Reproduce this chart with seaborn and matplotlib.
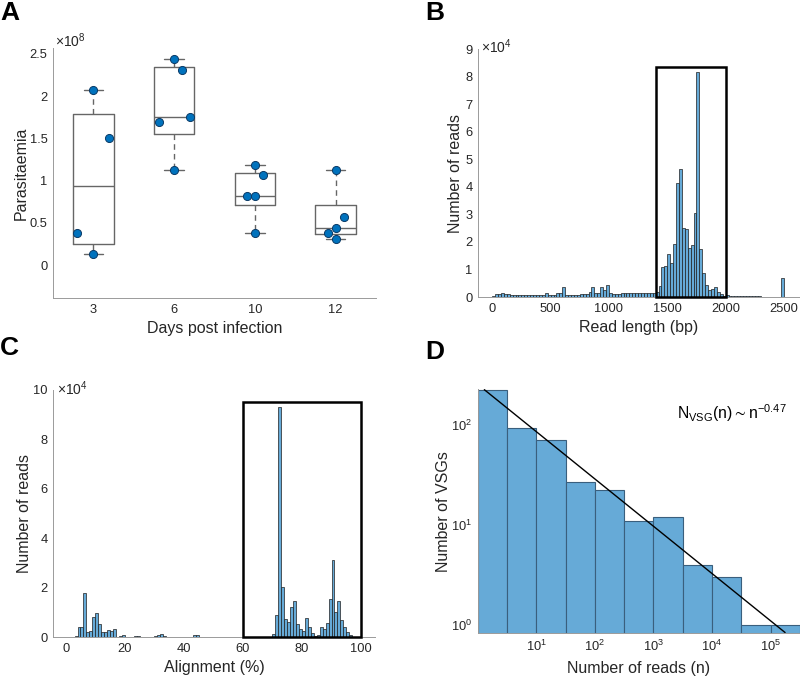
import numpy as np
import pandas as pd
import matplotlib
matplotlib.use('Agg')
import matplotlib.pyplot as plt
from matplotlib.patches import Rectangle
import seaborn as sns

# ── Panel A : parasitaemia (x 1e8) per day post infection ────
days       = ['3', '6', '10', '12']
para_d3    = [2.07, 1.50, 0.38, 0.127]
para_d6    = [2.44, 2.31, 1.756, 1.69, 1.127]
para_d10   = [1.19, 1.064, 0.819, 0.819, 0.38]
para_d12   = [1.127, 0.566, 0.44, 0.38, 0.313]
jitter_d3  = [0.0, 0.195, -0.205, 0.0]
jitter_d6  = [0.0, 0.10, 0.20, -0.19, 0.0]
jitter_d10 = [0.0, 0.10, -0.095, 0.0, 0.0]
jitter_d12 = [0.0, 0.10, 0.0, -0.10, 0.0]

# ── Panel B : read length histogram (25 bp bins, counts x 1e4) ──
len_bin_width = 25
len_counts = [
    0.03, 0.10, 0.12, 0.13, 0.12, 0.10, 0.09, 0.08, 0.08, 0.07,   # 0-225
    0.07, 0.07, 0.07, 0.07, 0.07, 0.07, 0.07, 0.08, 0.16, 0.09,   # 250-475
    0.08, 0.08, 0.14, 0.15, 0.36, 0.08, 0.08, 0.08, 0.09, 0.09,   # 500-725
    0.10, 0.11, 0.12, 0.18, 0.35, 0.15, 0.14, 0.35, 0.25, 0.42,   # 750-975
    0.13, 0.12, 0.12, 0.12, 0.13, 0.13, 0.15, 0.14, 0.14, 0.13,   # 1000-1225
    0.14, 0.14, 0.14, 0.15, 0.15, 0.16, 0.20, 0.40, 1.10, 1.14,   # 1250-1475
    1.56, 1.22, 1.92, 4.13, 4.65, 2.50, 2.46, 1.77, 1.89, 3.04,   # 1500-1725
    8.15, 1.73, 0.86, 0.44, 0.25, 0.28, 0.36, 0.19, 0.10, 0.05,   # 1750-1975
    0.07, 0.04, 0.04, 0.03, 0.03, 0.02, 0.02, 0.02, 0.02, 0.02,   # 2000-2225
    0.03, 0.02, 0.01, 0.01, 0.01, 0.01, 0.01, 0.00, 0.00, 0.70,   # 2250-2475
]

# ── Panel C : alignment histogram (1 % bins, counts x 1e4) ────
aln_counts = [
    0.00, 0.00, 0.02, 0.07, 0.43, 0.42, 1.80, 0.22, 0.26, 0.82,   # 0-9
    0.97, 0.54, 0.23, 0.22, 0.30, 0.26, 0.34, 0.03, 0.07, 0.08,   # 10-19
    0.03, 0.01, 0.01, 0.04, 0.04, 0.01, 0.01, 0.01, 0.01, 0.02,   # 20-29
    0.04, 0.08, 0.12, 0.04, 0.02, 0.02, 0.01, 0.01, 0.01, 0.02,   # 30-39
    0.03, 0.02, 0.02, 0.08, 0.08, 0.02, 0.01, 0.01, 0.01, 0.01,   # 40-49
    0.01, 0.01, 0.01, 0.01, 0.01, 0.01, 0.01, 0.01, 0.01, 0.01,   # 50-59
    0.01, 0.01, 0.01, 0.01, 0.01, 0.01, 0.02, 0.02, 0.03, 0.03,   # 60-69
    0.13, 0.90, 9.30, 2.03, 0.74, 0.61, 1.24, 1.48, 0.53, 0.32,   # 70-79
    0.24, 0.77, 0.43, 0.16, 0.07, 0.11, 0.40, 0.35, 0.58, 1.55,   # 80-89
    3.13, 1.01, 1.48, 0.70, 0.43, 0.20, 0.08, 0.03, 0.01, 0.00,   # 90-99
]

# ── Panel D : VSG abundance distribution (half-decade bins) ──
vsg_counts = [223, 92, 70, 27, 22, 11, 12, 4, 3, 1, 1]
fit_n      = [1.3, 1.76e5]
fit_N      = [223, 0.84]

# ── Style ────────────────────────────────────────────────────
sns.set_theme(style='white')
plt.rcParams['font.family'] = ['Liberation Sans', 'DejaVu Sans']
TXT   = '#262626'
SPINE = '#9a9a9a'
BLUE  = '#0072BD'
FACE  = '#66AAD7'
BOXC  = '#666666'
LAB   = 11.5
TICK  = 9.3

fig = plt.figure(figsize=(8, 6.78), dpi=100)
axA = fig.add_axes([0.06625, 0.5605, 0.40375, 0.3687])
axB = fig.add_axes([0.5975, 0.5619, 0.4025, 0.3658])
axC = fig.add_axes([0.0666, 0.0600, 0.4021, 0.3648])
axD = fig.add_axes([0.5971, 0.0659, 0.4029, 0.3599])


def style_axes(ax):
    sns.despine(ax=ax)
    for s in ['left', 'bottom']:
        ax.spines[s].set_color(SPINE)
        ax.spines[s].set_linewidth(0.7)
    ax.tick_params(direction='in', length=3, width=0.6, color=SPINE,
                   labelcolor=TXT, labelsize=TICK, pad=4)
    ax.tick_params(which='minor', length=0)


# ── A : boxplot + points ─────────────────────────────────────
groups  = [para_d3, para_d6, para_d10, para_d12]
jitters = [jitter_d3, jitter_d6, jitter_d10, jitter_d12]
stats = []
for g in groups:
    q1, med, q3 = np.percentile(g, [25, 50, 75], method='hazen')
    stats.append(dict(med=med, q1=q1, q3=q3, whislo=min(g), whishi=max(g), fliers=[]))
axA.bxp(stats, positions=range(4), widths=0.5, capwidths=0.24, showfliers=False,
        boxprops=dict(color=BOXC, lw=1.0),
        medianprops=dict(color=BOXC, lw=1.0),
        whiskerprops=dict(color=BOXC, lw=1.0, linestyle=(0, (4, 3))),
        capprops=dict(color=BOXC, lw=1.0))
pts = pd.DataFrame({
    'x': np.concatenate([np.array(j) + i for i, j in enumerate(jitters)]),
    'y': np.concatenate(groups),
})
sns.scatterplot(data=pts, x='x', y='y', ax=axA, s=34, color=BLUE,
                edgecolor='#0b3a66', linewidth=0.7, zorder=5)
axA.set_xlim(-0.5, 3.5)
axA.set_ylim(-0.39, 2.57)
axA.set_xticks(range(4))
axA.set_xticklabels(days)
axA.set_yticks([0, 0.5, 1, 1.5, 2, 2.5])
axA.set_yticklabels(['0', '0.5', '1', '1.5', '2', '2.5'])
axA.set_xlabel('Days post infection', fontsize=LAB, color=TXT, labelpad=4)
axA.set_ylabel('Parasitaemia', fontsize=LAB, color=TXT, labelpad=0.5)
style_axes(axA)
axA.text(0.005, 1.004, r'$\mathregular{\times10^{8}}$', transform=axA.transAxes,
         ha='left', va='baseline', fontsize=10, color=TXT)

# ── B : read length histogram ───────────────────────────────
len_start = np.arange(len(len_counts)) * len_bin_width
df_len = pd.DataFrame({'mid': len_start + len_bin_width / 2, 'n': len_counts})
sns.histplot(data=df_len, x='mid', weights='n', binwidth=len_bin_width,
             binrange=(0, len(len_counts) * len_bin_width), ax=axB,
             color=FACE, alpha=1, edgecolor='#1f1f1f', linewidth=0.5)
axB.add_patch(Rectangle((1400, 0), 600, 8.34, fill=False, ec='black', lw=1.8,
                        clip_on=False, zorder=6))
axB.set_xlim(-122, 2637)
axB.set_ylim(0, 9)
axB.set_xticks([0, 500, 1000, 1500, 2000, 2500])
axB.set_yticks(range(10))
axB.set_xlabel('Read length (bp)', fontsize=LAB, color=TXT, labelpad=4)
axB.set_ylabel('Number of reads', fontsize=LAB, color=TXT, labelpad=1.5)
style_axes(axB)
axB.text(0.01, 0.984, r'$\mathregular{\times10^{4}}$', transform=axB.transAxes,
         ha='left', va='baseline', fontsize=10, color=TXT)

# ── C : alignment histogram ─────────────────────────────────
df_aln = pd.DataFrame({'mid': np.arange(len(aln_counts)) + 0.5, 'n': aln_counts})
sns.histplot(data=df_aln, x='mid', weights='n', binwidth=1,
             binrange=(0, len(aln_counts)), ax=axC,
             color=FACE, alpha=1, edgecolor='#1f1f1f', linewidth=0.5)
axC.add_patch(Rectangle((60, 0), 40, 9.53, fill=False, ec='black', lw=1.8,
                        clip_on=False, zorder=6))
axC.set_xlim(-4.2, 104.7)
axC.set_ylim(0, 10)
axC.set_xticks([0, 20, 40, 60, 80, 100])
axC.set_yticks([0, 2, 4, 6, 8, 10])
axC.set_xlabel('Alignment (%)', fontsize=LAB, color=TXT, labelpad=4)
axC.set_ylabel('Number of reads', fontsize=LAB, color=TXT, labelpad=1)
style_axes(axC)
axC.text(0.012, 0.98, r'$\mathregular{\times10^{4}}$', transform=axC.transAxes,
         ha='left', va='baseline', fontsize=10, color=TXT)

# ── D : VSG abundance, log-log ──────────────────────────────
vsg_log_start = np.arange(len(vsg_counts)) * 0.5
df_vsg = pd.DataFrame({'mid': 10 ** (vsg_log_start + 0.25), 'n': vsg_counts})
sns.histplot(data=df_vsg, x='mid', weights='n', binwidth=0.5, binrange=(0, 5.5),
             log_scale=True, ax=axD, color=FACE, alpha=1,
             edgecolor='#3a5f7d', linewidth=0.8)
axD.set_yscale('log', nonpositive='clip')
df_fit = pd.DataFrame({'n': fit_n, 'N': fit_N})
sns.lineplot(data=df_fit, x='n', y='N', ax=axD, color='black', lw=1.0, zorder=5)
axD.set_xlim(1.0, 10 ** 5.5)
axD.set_ylim(0.825, 225)
axD.set_xticks([1e1, 1e2, 1e3, 1e4, 1e5])
axD.set_yticks([1, 10, 100])
axD.set_xlabel('Number of reads (n)', fontsize=LAB, color=TXT, labelpad=5)
axD.set_ylabel('Number of VSGs', fontsize=LAB, color=TXT, labelpad=0)
style_axes(axD)
axD.text(0.617, 0.878, r'$\mathregular{N_{VSG}(n) \sim n^{-0.47}}$',
         transform=axD.transAxes, ha='left', va='baseline', fontsize=11.3, color='black')

# ── Panel letters ───────────────────────────────────────────
for lab, x, y in [('A', 0.0, 0.999), ('B', 0.532, 0.999),
                  ('C', 0.0, 0.505), ('D', 0.532, 0.499)]:
    fig.text(x, y, lab, fontsize=19, fontweight='bold', color='black',
             ha='left', va='top')

fig.savefig('out.png', dpi=100)
